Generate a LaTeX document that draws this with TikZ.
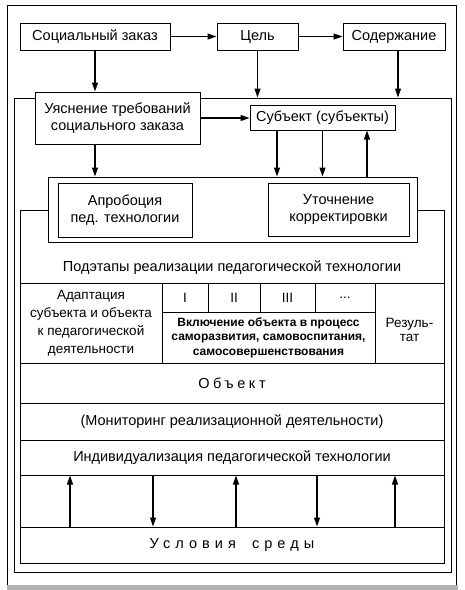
\documentclass[tikz,border=0pt]{standalone}
\usepackage{fontspec}
\setmainfont{Liberation Sans}
\newfontfamily\spacedfont[LetterSpace=25]{Liberation Sans}
\newfontfamily\widefont[LetterSpace=35]{Liberation Sans}
\usetikzlibrary{arrows.meta}
\begin{document}
\begin{tikzpicture}[x=1pt,y=-1pt,
  frame/.style={draw, line width=1pt, rectangle, inner sep=0pt},
  box/.style={frame, fill=white},
  txt/.style={font=\fontsize{14.5}{17}\selectfont, align=center},
  cell/.style={frame, font=\fontsize{13.5}{18}\selectfont, align=center},
  arr/.style={line width=1.2pt, -{Triangle[length=9pt,width=6pt]}},
]
\useasboundingbox (0,0) rectangle (464,590);
% frames
\node[frame, minimum width=449pt, minimum height=581pt] (outer) at (231.5,295.5) {};
\node[frame, minimum width=437pt, minimum height=474pt] (fA) at (232.5,335) {};
\node[frame, minimum width=424pt, minimum height=353pt] (fC) at (232,386.5) {};
\fill[gray!60] (7,585) rectangle (458,590);
% top row
\node[box, txt, minimum width=150pt, minimum height=27pt] (soc) at (95,36.5) {Социальный заказ};
\node[box, txt, minimum width=81pt, minimum height=27pt] (goal) at (257.5,36.5) {Цель};
\node[box, txt, minimum width=102pt, minimum height=27pt] (cont) at (394,36.5) {Содержание};
% second level
\node[box, txt, minimum width=165pt, minimum height=52pt] (clar) at (117.5,118) {Уяснение требований\\социального заказа};
\node[box, txt, minimum width=145pt, minimum height=25pt] (subj) at (322.5,117.5) {Субъект (субъекты)};
\node[box, minimum width=369pt, minimum height=65pt] (fB) at (232.5,209.5) {};
\node[box, txt, minimum width=134pt, minimum height=54pt] (aprob) at (125,210) {Апробоция\\пед. технологии};
\node[box, txt, minimum width=141pt, minimum height=53pt] (utoch) at (338.5,209.5) {Уточнение\\корректировки};
\node[txt] (stages) at (232,268) {Подэтапы реализации педагогической технологии};
% table
\node[cell, minimum width=142pt, minimum height=80pt] (adapt) at (91,323) {Адаптация\\субъекта и объекта\\к педагогической\\деятельности};
\node[cell, minimum width=46pt, minimum height=29pt] (c1) at (185,297.5) {I};
\node[cell, minimum width=52pt, minimum height=29pt] (c2) at (234,297.5) {II};
\node[cell, minimum width=55pt, minimum height=29pt] (c3) at (287.5,297.5) {III};
\node[cell, minimum width=60pt, minimum height=29pt] (c4) at (345,297.5) {...};
\node[frame, font=\bfseries\fontsize{12}{14.5}\selectfont, align=center, minimum width=213pt, minimum height=51pt] (incl) at (268.5,337.5) {Включение объекта в процесс\\саморазвития, самовоспитания,\\самосовершенствования};
\node[frame, minimum width=69pt, minimum height=80pt] (res) at (409.5,323) {};
\node[font=\fontsize{13.5}{14}\selectfont, align=center] (restxt) at (409.5,330) {Резуль-\\тат};
\node[frame, txt, minimum width=424pt, minimum height=40pt] (obj) at (232,383) {\spacedfont Объект};
\node[frame, txt, minimum width=424pt, minimum height=37pt] (mon) at (232,421.5) {(Мониторинг реализационной деятельности)};
\node[frame, txt, minimum width=424pt, minimum height=35pt] (ind) at (232,457.5) {Индивидуализация педагогической технологии};
\node[frame, txt, minimum width=424pt, minimum height=36pt] (cond) at (232,545) {\widefont Условия\hspace{16pt}среды};
% arrows
\draw[arr] (soc) -- (goal);
\draw[arr] (goal) -- (cont);
\draw[arr] (soc) -- (soc |- clar.north);
\draw[arr] (goal) -- (goal |- fA.north);
\coordinate (xc) at (398,0);
\draw[arr] (cont.south -| xc) -- (xc |- fA.north);
\draw[arr] (clar.east) -- (clar.east -| subj.west);
\draw[arr] (soc |- clar.south) -- (soc |- fB.north);
\coordinate (x1) at (277,0);
\coordinate (x3) at (367,0);
\draw[arr] (subj.south -| x1) -- (x1 |- fB.north);
\draw[arr] (subj) -- (subj |- fB.north);
\draw[arr] (x3 |- fB.north) -- (subj.south -| x3);
\coordinate (b1) at (70,0);
\coordinate (b2) at (153,0);
\coordinate (b3) at (236,0);
\coordinate (b4) at (317,0);
\coordinate (b5) at (395,0);
\draw[arr] (b1 |- cond.north) -- (b1 |- ind.south);
\draw[arr] (b2 |- ind.south) -- (b2 |- cond.north);
\draw[arr] (b3 |- cond.north) -- (b3 |- ind.south);
\draw[arr] (b4 |- ind.south) -- (b4 |- cond.north);
\draw[arr] (b5 |- cond.north) -- (b5 |- ind.south);
\end{tikzpicture}
\end{document}
